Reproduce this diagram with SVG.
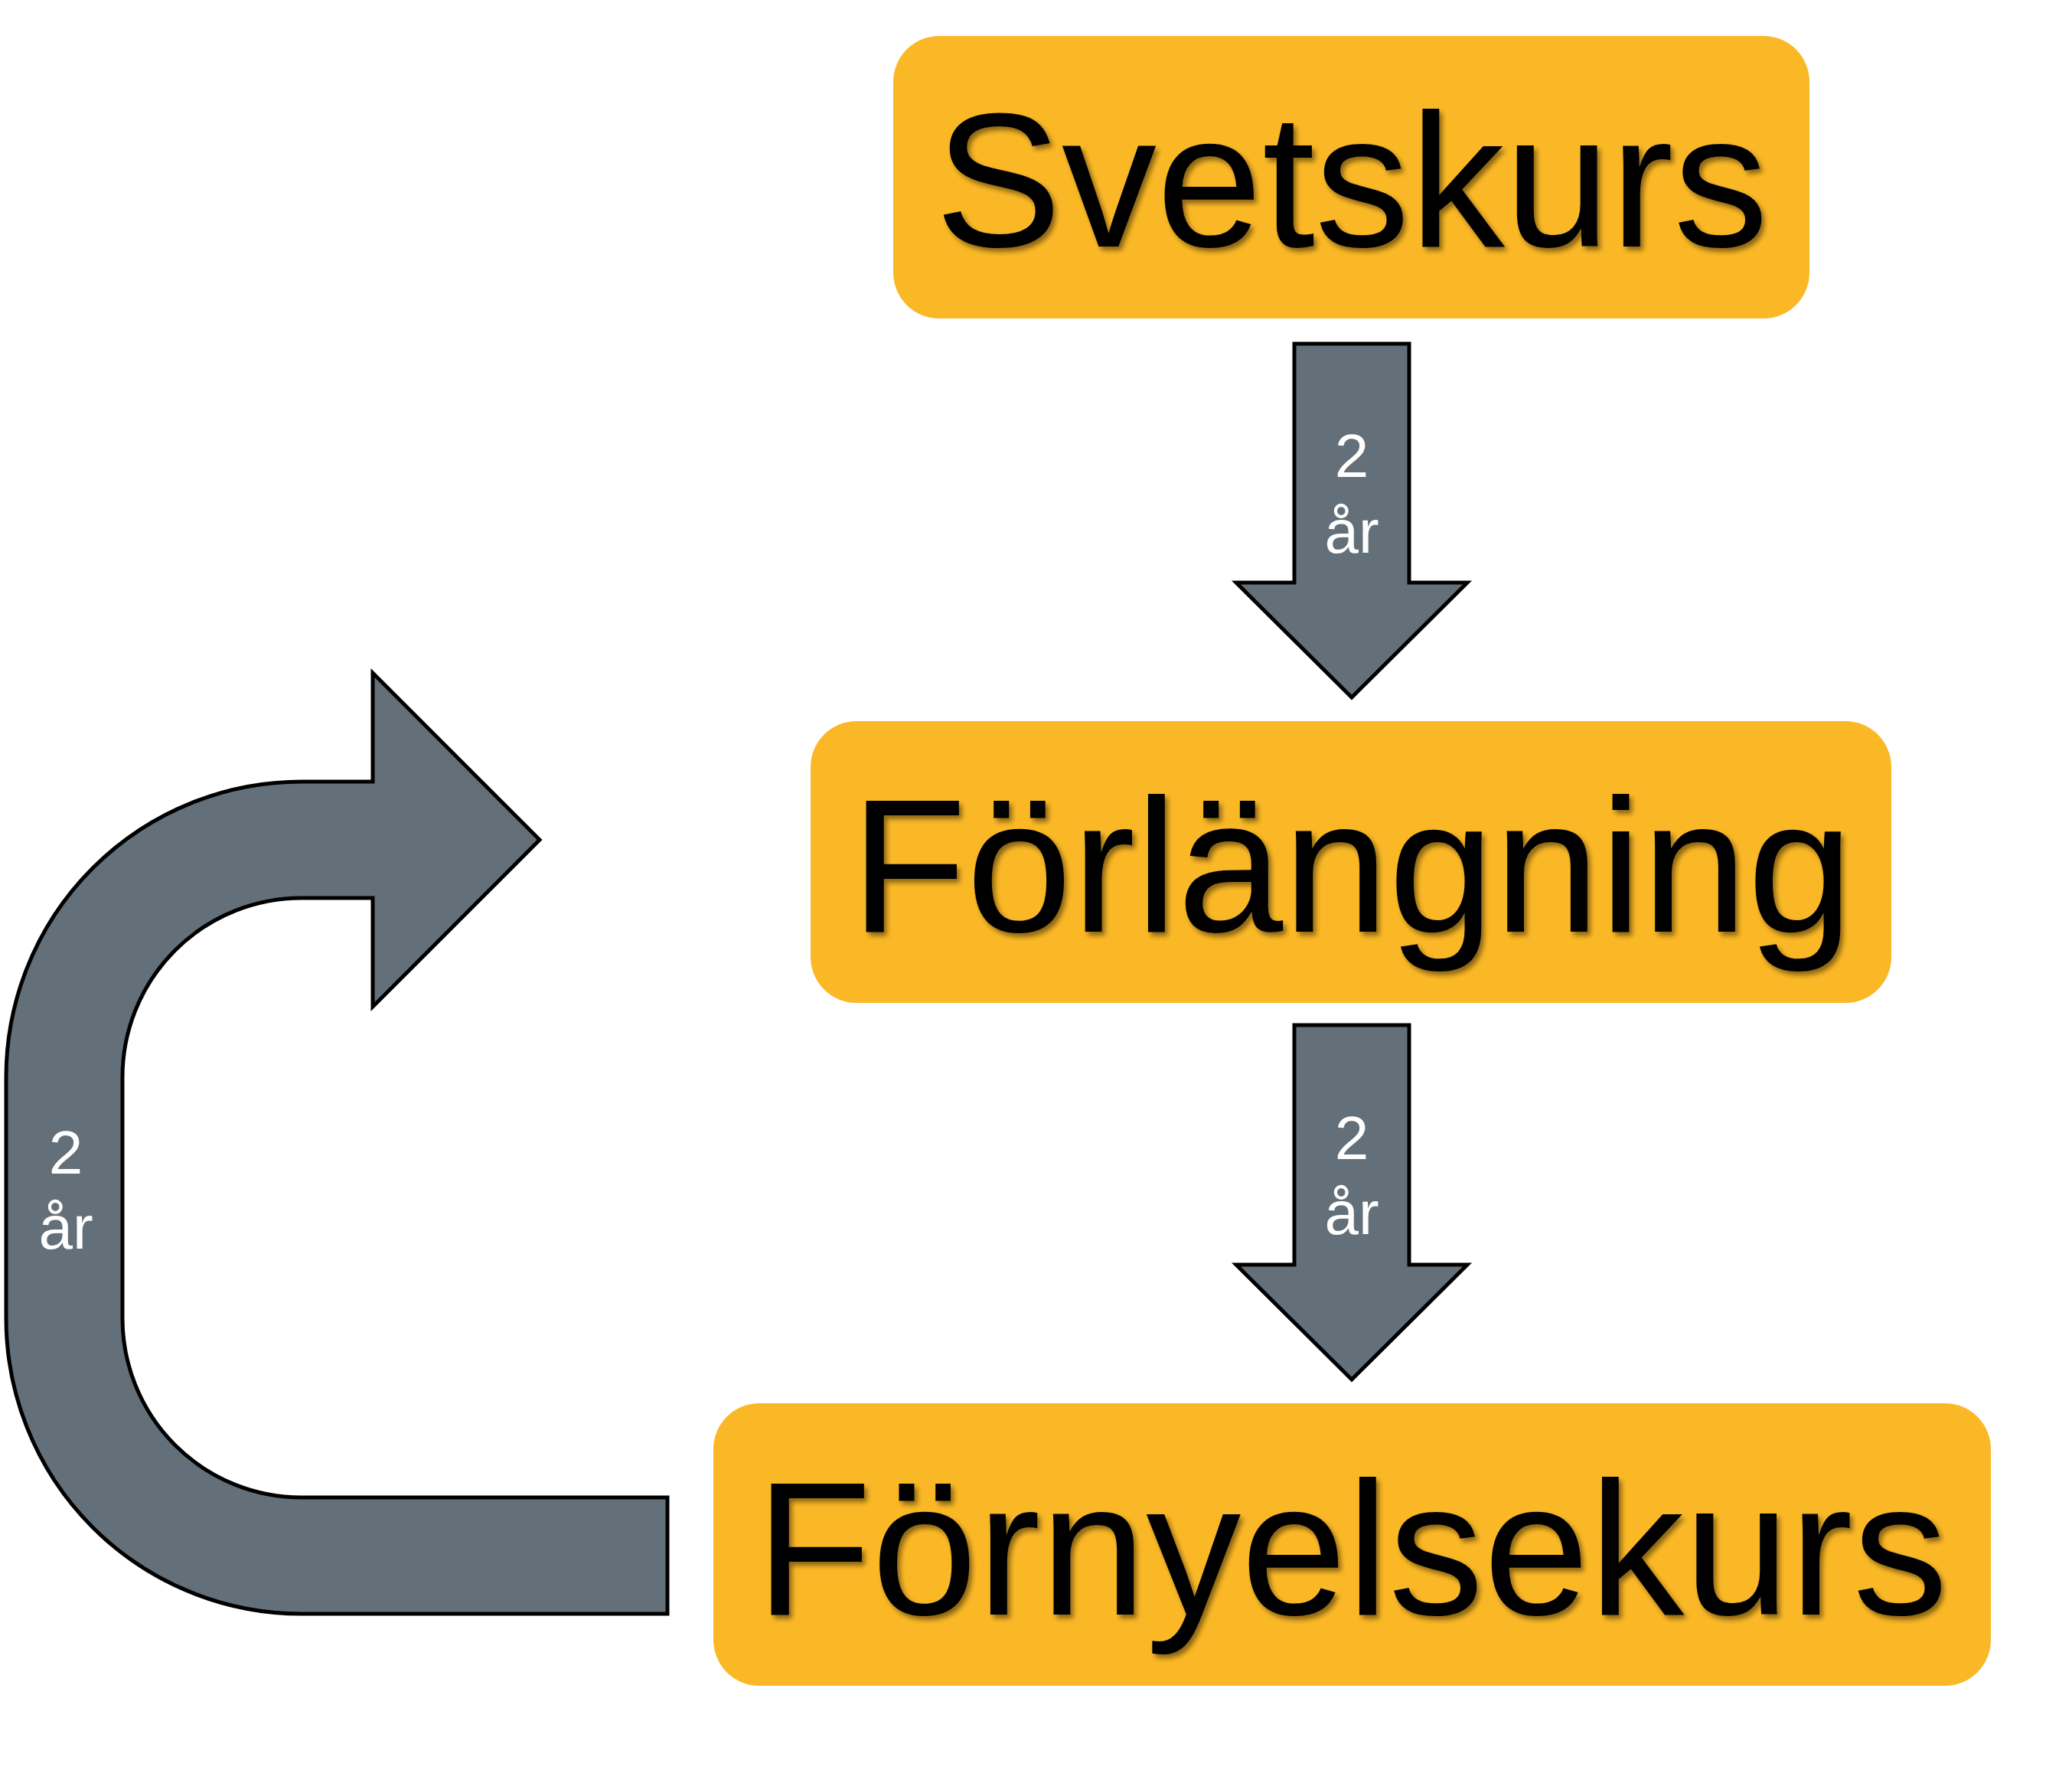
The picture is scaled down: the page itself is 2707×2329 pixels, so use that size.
<svg xmlns="http://www.w3.org/2000/svg" width="2707" height="2329" viewBox="0 0 2707 2329">
<defs>
<filter id="tshadow" x="-5%" y="-10%" width="110%" height="130%">
<feDropShadow dx="4" dy="5" stdDeviation="3" flood-color="#000" flood-opacity="0.45"/>
</filter>
<style>
.box{fill:#FBB826;}
.title{font-family:"Liberation Sans",Arial,sans-serif;font-size:248px;fill:#000;text-anchor:middle;filter:url(#tshadow);}
.arrow{fill:#637079;stroke:#000;stroke-width:5;stroke-linejoin:miter;}
.lbl{font-family:"Liberation Sans",Arial,sans-serif;font-size:80px;fill:#fff;text-anchor:middle;}
</style>
</defs>
<rect width="2707" height="2329" fill="#fff"/>
<g id="connectors">
<g id="arrow1">
<path class="arrow" d="M1691,449 L1841,449 L1841,761 L1917,761 L1766,911 L1615,761 L1691,761 Z"/>
<text class="lbl" x="1766" y="623">2</text>
<text class="lbl" x="1766" y="722">år</text>
</g>
<g id="arrow2">
<path class="arrow" d="M1691,1339 L1841,1339 L1841,1652 L1917,1652 L1766,1802 L1615,1652 L1691,1652 Z"/>
<text class="lbl" x="1766" y="1514">2</text>
<text class="lbl" x="1766" y="1612">år</text>
</g>
<g id="arrow3">
<path class="arrow" d="M872,2108 L394,2108 A386,386 0 0 1 8,1722 L8,1407 A386,386 0 0 1 394,1021 L487,1021 L487,879 L705,1097 L487,1315 L487,1173 L394,1173 A234,234 0 0 0 160,1407 L160,1722 A234,234 0 0 0 394,1956 L872,1956 Z"/>
<text class="lbl" x="86" y="1533">2</text>
<text class="lbl" x="86" y="1631">år</text>
</g>
</g>
<g id="node-svetskurs">
<rect class="box" x="1167" y="47" width="1197" height="369" rx="60" ry="60"/>
<text class="title" x="1766" y="322">Svetskurs</text>
</g>
<g id="node-forlangning">
<rect class="box" x="1059" y="942" width="1412" height="368" rx="60" ry="60"/>
<text class="title" x="1766" y="1217">Förlängning</text>
</g>
<g id="node-fornyelsekurs">
<rect class="box" x="932" y="1833" width="1669" height="369" rx="60" ry="60"/>
<text class="title" x="1766" y="2109">Förnyelsekurs</text>
</g>
</svg>
